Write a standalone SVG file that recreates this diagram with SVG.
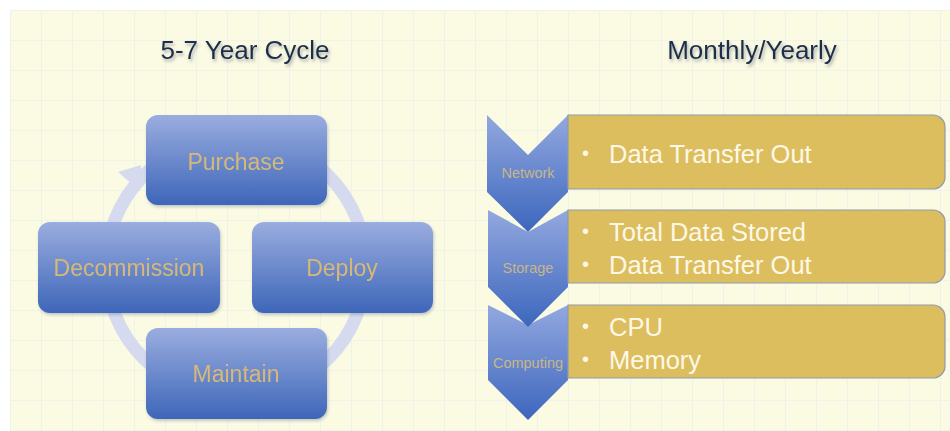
<svg xmlns="http://www.w3.org/2000/svg" width="950" height="431" viewBox="0 0 950 431">
  <defs>
    <linearGradient id="blueGrad" x1="0" y1="0" x2="0" y2="1">
      <stop offset="0" stop-color="#9aaddf"/>
      <stop offset="1" stop-color="#3e66b9"/>
    </linearGradient>
    <linearGradient id="chevGrad" x1="0" y1="0" x2="0" y2="1">
      <stop offset="0" stop-color="#93a8df"/>
      <stop offset="1" stop-color="#3c66bd"/>
    </linearGradient>
    <pattern id="grid" width="31" height="30" patternUnits="userSpaceOnUse" x="10" y="10">
      <path d="M0 0 H31 M0 0 V30" fill="none" stroke="#e6eeee" stroke-width="1.2"/>
    </pattern>
    <filter id="shadow" x="-10%" y="-10%" width="130%" height="140%">
      <feDropShadow dx="1.5" dy="2.5" stdDeviation="1.5" flood-color="#4a5a70" flood-opacity="0.45"/>
    </filter>
    <filter id="boxShadow" x="-10%" y="-10%" width="130%" height="140%">
      <feDropShadow dx="1" dy="2" stdDeviation="1.5" flood-color="#5a6a80" flood-opacity="0.35"/>
    </filter>
  </defs>
  <style>
    .title { font-family: "Liberation Sans", Arial, sans-serif; font-size: 26px; fill: #1f2e48; text-anchor: middle; }
    .node rect { fill: url(#blueGrad); }
    .nodeText { font-family: "Liberation Sans", Arial, sans-serif; font-size: 23px; fill: #d6b976; text-anchor: middle; }
    .chev { fill: url(#chevGrad); }
    .chevText { font-family: "Liberation Sans", Arial, sans-serif; font-size: 14.5px; fill: #c8b688; text-anchor: middle; }
    .gold { fill: #dcbe5f; stroke: #8d9bb0; stroke-width: 1.2; }
    .goldText { font-family: "Liberation Sans", Arial, sans-serif; font-size: 25.5px; fill: #fdf8e6; }
    .bullet { font-family: "Liberation Sans", Arial, sans-serif; font-size: 20px; fill: #fdf8e6; }
    .ring { fill: none; stroke: #d6daef; stroke-width: 13; }
    .head { fill: #d6daef; }
  </style>

  <rect x="0" y="0" width="950" height="431" fill="#ffffff"/>
  <rect x="10" y="10" width="940" height="421" fill="#fbfae3"/>
  <rect x="10" y="10" width="940" height="421" fill="url(#grid)"/>

  <text class="title" x="245" y="59" filter="url(#shadow)">5-7 Year Cycle</text>
  <text class="title" x="752" y="59" filter="url(#shadow)">Monthly/Yearly</text>

  <g id="connectors">
    <circle class="ring" cx="236" cy="267" r="130"/>
    <polygon class="head" points="118,172 141,165 140,191"/>
  </g>

  <g id="purchase" class="node" filter="url(#boxShadow)">
    <rect x="146" y="115" width="181" height="90" rx="12"/>
    <text class="nodeText" x="236" y="170">Purchase</text>
  </g>
  <g id="deploy" class="node" filter="url(#boxShadow)">
    <rect x="252" y="222" width="181" height="91" rx="12"/>
    <text class="nodeText" x="342" y="276">Deploy</text>
  </g>
  <g id="maintain" class="node" filter="url(#boxShadow)">
    <rect x="146" y="328" width="181" height="91" rx="12"/>
    <text class="nodeText" x="236" y="382">Maintain</text>
  </g>
  <g id="decommission" class="node" filter="url(#boxShadow)">
    <rect x="38" y="222" width="182" height="91" rx="12"/>
    <text class="nodeText" x="129" y="276">Decommission</text>
  </g>

  <g id="computing">
    <polygon class="chev" points="488,305 528,325 568,305 568,380 528,420 488,380"/>
    <path class="gold" d="M568 305 H933 A12 12 0 0 1 945 317 V366 A12 12 0 0 1 933 378 H568 Z"/>
    <text class="chevText" x="528" y="368">Computing</text>
    <text class="bullet" x="582" y="333">•</text>
    <text class="goldText" x="609" y="336">CPU</text>
    <text class="bullet" x="582" y="366">•</text>
    <text class="goldText" x="609" y="369">Memory</text>
  </g>
  <g id="storage">
    <polygon class="chev" points="488,210 528,232 568,210 568,287 528,327 488,287"/>
    <path class="gold" d="M568 210 H933 A12 12 0 0 1 945 222 V271 A12 12 0 0 1 933 283 H568 Z"/>
    <text class="chevText" x="528" y="273">Storage</text>
    <text class="bullet" x="582" y="238">•</text>
    <text class="goldText" x="609" y="241">Total Data Stored</text>
    <text class="bullet" x="582" y="271">•</text>
    <text class="goldText" x="609" y="274">Data Transfer Out</text>
  </g>
  <g id="network">
    <polygon class="chev" points="487,115 528,155 568,115 568,192 528,232 487,192"/>
    <path class="gold" d="M568 115 H933 A12 12 0 0 1 945 127 V177 A12 12 0 0 1 933 189 H568 Z"/>
    <text class="chevText" x="528" y="178">Network</text>
    <text class="bullet" x="582" y="160">•</text>
    <text class="goldText" x="609" y="163">Data Transfer Out</text>
  </g>
</svg>
